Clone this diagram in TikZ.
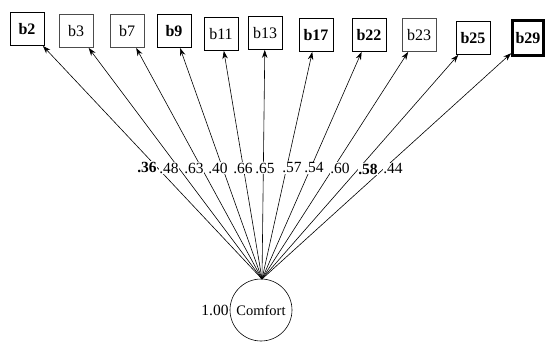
\documentclass[tikz,border=0pt]{standalone}
\usepackage{fontspec}
\setmainfont{Liberation Serif}
\usetikzlibrary{arrows.meta}
\begin{document}
\begin{tikzpicture}[x=1pt,y=-1pt,
  item/.style={draw=black, line width=0.8pt, fill=white, minimum width=34pt,
    minimum height=33pt, inner sep=0pt, font=\fontsize{16}{18}\selectfont},
  lightitem/.style={item, draw=black!70},
  thickitem/.style={item, line width=2.6pt, minimum width=31pt, minimum height=35pt},
  latent/.style={draw, circle, line width=0.6pt, minimum size=62pt, inner sep=0pt,
    font=\fontsize{14.5}{16}\selectfont},
  load/.style={-{Stealth[length=8pt,width=5.5pt]}, line width=0.6pt},
  coef/.style={fill=white, inner sep=0.5pt, font=\fontsize{15.5}{17}\selectfont}]
\useasboundingbox (0,0) rectangle (545,341);

% observed indicators
\node[item]      (b2)  at (27,29)  {\textbf{b2}};
\node[lightitem] (b3)  at (76,31)  {b3};
\node[lightitem] (b7)  at (127,31) {b7};
\node[item]      (b9)  at (174,31) {\textbf{b9}};
\node[item]      (b11) at (221,34) {b11};
\node[item]      (b13) at (265,33) {b13};
\node[item]      (b17) at (316,35) {\textbf{b17}};
\node[item]      (b22) at (369,35) {\textbf{b22}};
\node[lightitem] (b23) at (419,35) {b23};
\node[item]      (b25) at (473,38) {\textbf{b25}};
\node[thickitem] (b29) at (528,38) {\textbf{b29}};

% latent factor
\node[latent] (F) at (261,310) {Comfort};
\node[font=\fontsize{15.5}{17}\selectfont, anchor=east, inner sep=1pt] (var) at (F.west) {1.00};
\coordinate (apex) at (262,279);

% loadings
\foreach \b in {b2,b3,b7,b9,b11,b13,b17,b22,b23,b25,b29}
  \draw[load] (apex) -- (\b);

% coefficients
\node[coef] (l2)  at (147,167) {\textbf{.36}};
\node[coef] (l3)  at (169,168) {.48};
\node[coef] (l7)  at (194,168) {.63};
\node[coef] (l9)  at (218,168) {.40};
\node[coef] (l11) at (243,168) {.66};
\node[coef] (l13) at (265,168) {.65};
\node[coef] (l17) at (292,168) {.57};
\node[coef] (l22) at (314,168) {.54};
\node[coef] (l23) at (340,168) {.60};
\node[coef] (l25) at (368,169) {\textbf{.58}};
\node[coef] (l29) at (393,169) {.44};
\end{tikzpicture}
\end{document}
